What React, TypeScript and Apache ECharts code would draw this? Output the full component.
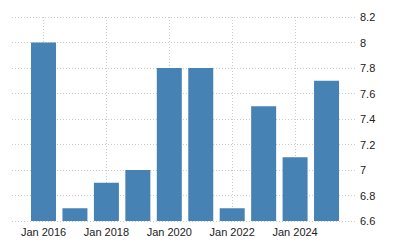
import React, { useEffect, useRef } from "react";
import * as echarts from "echarts";

const years = [2016, 2017, 2018, 2019, 2020, 2021, 2022, 2023, 2024, 2025];
const values = [8.0, 6.7, 6.9, 7.0, 7.8, 7.8, 6.7, 7.5, 7.1, 7.7];
const yMin = 6.6;
const yMax = 8.2;
const yStep = 0.2;

const PX_PER_YEAR = 31.45;
const FIRST_X = 43.5;
const RIGHT_EDGE = 356;

export default function App() {
  const ref = useRef<HTMLDivElement>(null);
  useEffect(() => {
    document.body.style.margin = "0";
    const chart = echarts.init(ref.current!, null, { renderer: "svg" });
    const gridTop = 17;
    const gridBottom = 29;
    const maxB = (RIGHT_EDGE - FIRST_X) / PX_PER_YEAR;
    const font = "Arial, 'Liberation Sans', sans-serif";
    chart.setOption({
      animation: false,
      grid: [
        { left: 12, right: 400 - RIGHT_EDGE, top: gridTop, bottom: gridBottom },
        { left: FIRST_X, right: 400 - RIGHT_EDGE, top: gridTop, bottom: gridBottom },
      ],
      xAxis: [
        { type: "value", gridIndex: 0, min: 0, max: 1, show: false },
        {
          type: "value",
          gridIndex: 1,
          min: 0,
          max: maxB,
          interval: 2,
          axisLine: { show: false },
          axisTick: { show: false },
          splitLine: {
            show: true,
            showMinLine: true,
            showMaxLine: false,
            lineStyle: { color: "#cccccc", type: [1, 2], width: 1 },
          },
          axisLabel: {
            showMinLabel: true,
            showMaxLabel: false,
            margin: 5,
            color: "#222",
            fontSize: 11,
            fontFamily: font,
            formatter: (v: number) =>
              v >= 0 && Math.abs(v - Math.round(v)) < 1e-6 && Math.round(v) % 2 === 0
                ? "Jan " + (years[0] + Math.round(v))
                : "",
          },
        },
      ],
      yAxis: [
        {
          type: "value",
          gridIndex: 0,
          position: "right",
          min: yMin,
          max: yMax,
          interval: yStep,
          axisLine: { show: false },
          axisTick: { show: false },
          splitLine: {
            show: true,
            lineStyle: { color: "#cccccc", type: [1, 2], width: 1 },
          },
          axisLabel: {
            margin: 4,
            color: "#222",
            fontSize: 11,
            fontFamily: font,
            formatter: (v: number) => String(Math.round(v * 10) / 10),
          },
        },
        {
          type: "value",
          gridIndex: 1,
          min: yMin,
          max: yMax,
          startValue: yMin,
          show: false,
          splitLine: { show: false },
        },
      ],
      series: [
        {
          type: "bar",
          xAxisIndex: 1,
          yAxisIndex: 1,
          barWidth: 25,
          clip: false,
          itemStyle: { color: "#4682b4" },
          data: years.map((y, i) => [y - years[0], values[i]]),
        },
      ],
    });
    return () => chart.dispose();
  }, []);
  return (
    <div
      ref={ref}
      style={{ width: 400, height: 250, position: "absolute", left: 0, top: 0 }}
    />
  );
}
